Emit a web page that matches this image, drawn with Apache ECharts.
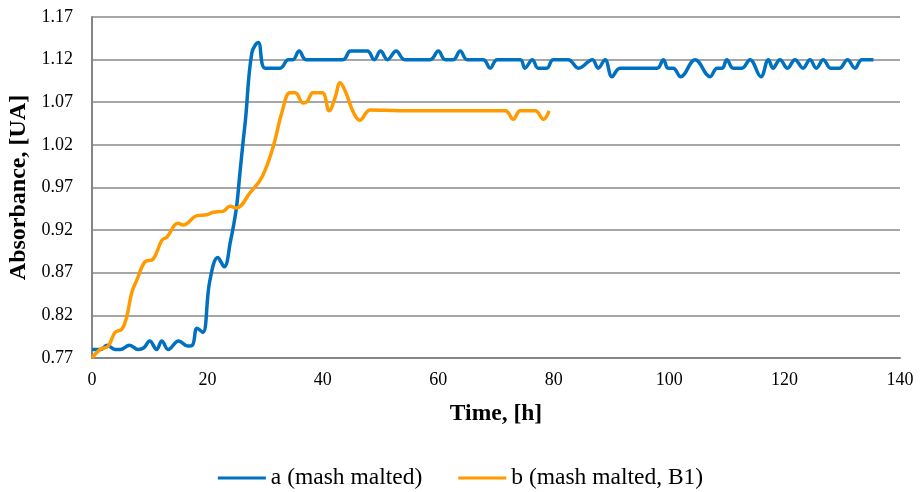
<!DOCTYPE html>
<html>
<head>
<meta charset="utf-8">
<script src="https://cdn.jsdelivr.net/npm/echarts@6/dist/echarts.min.js"></script>
<style>
  html, body { margin: 0; padding: 0; background: #fff; }
  #absChart { width: 921px; height: 492px; }
</style>
</head>
<body>
<div id="absChart"></div>
<script>
// a (mash malted) - time [h] / absorbance
var aTime = [0, 1.5, 2.6, 4, 4.9, 6.5, 8, 9, 10, 11.2, 12.1, 13.2, 15, 16.6, 17.4, 18.2, 19.2, 20.4, 21.8, 22.9,
  24, 25, 25.6, 26.2, 26.6, 27.7, 28.8, 30, 32.6, 34, 34.8, 35.9, 37.1, 43.5, 44.8, 47.7, 48.9, 50, 51.2, 52.7,
  54.2, 58.6, 60, 61.2, 62.6, 63.8, 65, 67.8, 69, 70.2, 74.2, 75, 76.3, 77.3, 78.8, 79.9, 82.5, 84.3, 86.7, 87.7,
  88.9, 90.1, 91.5, 97.9, 99, 99.8, 100.7, 102, 104.5, 107.1, 108.3, 109.2, 110, 111.1, 112.6, 114, 115.9, 117.2, 118, 119.2,
  120.5, 121.8, 123.2, 124.4, 125.5, 126.7, 128, 129.5, 130.9, 132.2, 133.4, 135.4];
var aAbs = [0.78, 0.78, 0.785, 0.78, 0.78, 0.785, 0.78, 0.782, 0.79, 0.78, 0.79, 0.78, 0.79, 0.784, 0.785, 0.805, 0.80, 0.86, 0.888, 0.877,
  0.907, 0.945, 0.985, 1.025, 1.05, 1.128, 1.14, 1.11, 1.11, 1.12, 1.12, 1.13, 1.12, 1.12, 1.13, 1.13, 1.12, 1.13, 1.12, 1.13,
  1.12, 1.12, 1.13, 1.12, 1.12, 1.13, 1.12, 1.12, 1.11, 1.12, 1.12, 1.11, 1.12, 1.11, 1.11, 1.12, 1.12, 1.11, 1.12, 1.11,
  1.12, 1.10, 1.11, 1.11, 1.12, 1.11, 1.11, 1.10, 1.12, 1.10, 1.11, 1.11, 1.12, 1.11, 1.11, 1.12, 1.10, 1.12, 1.11, 1.12,
  1.11, 1.12, 1.11, 1.12, 1.11, 1.12, 1.11, 1.11, 1.12, 1.11, 1.12, 1.12];

// b (mash malted, B1)
var bTime = [0, 1.4, 2.8, 4, 5.2, 6, 6.9, 7.8, 9.2, 10.6, 12.1, 13, 14.9, 15.8, 18.2, 19.9, 21, 22.7, 23.9, 25,
  27.4, 29.5, 31.4, 32.9, 34.3, 35.2, 36.6, 37.3, 38.3, 39.9, 41.1, 42.1, 43, 44, 45.3, 46.4, 48.2, 53.4, 71.6, 73,
  74.2, 76.8, 78.2, 79.2];
var bAbs = [0.77, 0.78, 0.784, 0.80, 0.804, 0.818, 0.847, 0.862, 0.883, 0.886, 0.908, 0.912, 0.928, 0.926, 0.937, 0.938, 0.941, 0.942, 0.948, 0.946,
  0.964, 0.983, 1.018, 1.058, 1.081, 1.081, 1.069, 1.071, 1.081, 1.081, 1.06, 1.075, 1.093, 1.081, 1.058, 1.049, 1.061, 1.06, 1.06, 1.05,
  1.06, 1.06, 1.05, 1.06];

var seriesNames = ['a (mash malted)', 'b (mash malted, B1)'];

function pairs(xs, ys) {
  return xs.map(function (x, i) { return [x, ys[i]]; });
}

var font = '"Liberation Serif", "Times New Roman", serif';
var myChart = echarts.init(document.getElementById('absChart'));

var option = {
  animation: false,
  textStyle: { fontFamily: font },
  color: ['#0070C0', '#FF9A00'],
  grid: { left: 92, right: 21, top: 17, bottom: 134, outerBoundsMode: 'none' },
  legend: {
    top: 461,
    left: 'center',
    icon: 'rect',
    itemWidth: 48,
    itemHeight: 3,
    itemGap: 36,
    textStyle: { fontFamily: font, fontSize: 23.5, color: '#000' },
    data: seriesNames
  },
  xAxis: {
    type: 'value',
    min: 0,
    max: 140,
    interval: 20,
    name: 'Time, [h]',
    nameLocation: 'middle',
    nameGap: 44,
    nameTextStyle: { fontFamily: font, fontSize: 23.5, fontWeight: 'bold', color: '#000' },
    axisLine: { lineStyle: { color: '#868686', width: 2 } },
    axisTick: { show: false },
    axisLabel: { fontFamily: font, fontSize: 18, color: '#000', margin: 13 },
    splitLine: { show: false }
  },
  yAxis: {
    type: 'value',
    min: 0.77,
    max: 1.17,
    interval: 0.05,
    name: 'Absorbance, [UA]',
    nameLocation: 'middle',
    nameGap: 55,
    nameTextStyle: { fontFamily: font, fontSize: 24, fontWeight: 'bold', color: '#000' },
    axisLine: { show: true, lineStyle: { color: '#868686', width: 2 } },
    axisTick: { show: false },
    axisLabel: {
      fontFamily: font, fontSize: 18, color: '#000', margin: 19,
      formatter: function (v) { return v.toFixed(2); }
    },
    splitLine: { lineStyle: { color: '#A6A6A6', width: 2 } }
  },
  series: [
    {
      name: seriesNames[0],
      type: 'line',
      smooth: 0.4,
      symbol: 'none',
      lineStyle: { width: 3.5 },
      data: pairs(aTime, aAbs)
    },
    {
      name: seriesNames[1],
      type: 'line',
      smooth: 0.4,
      symbol: 'none',
      lineStyle: { width: 3.5 },
      data: pairs(bTime, bAbs)
    }
  ]
};

myChart.setOption(option);
</script>
</body>
</html>
